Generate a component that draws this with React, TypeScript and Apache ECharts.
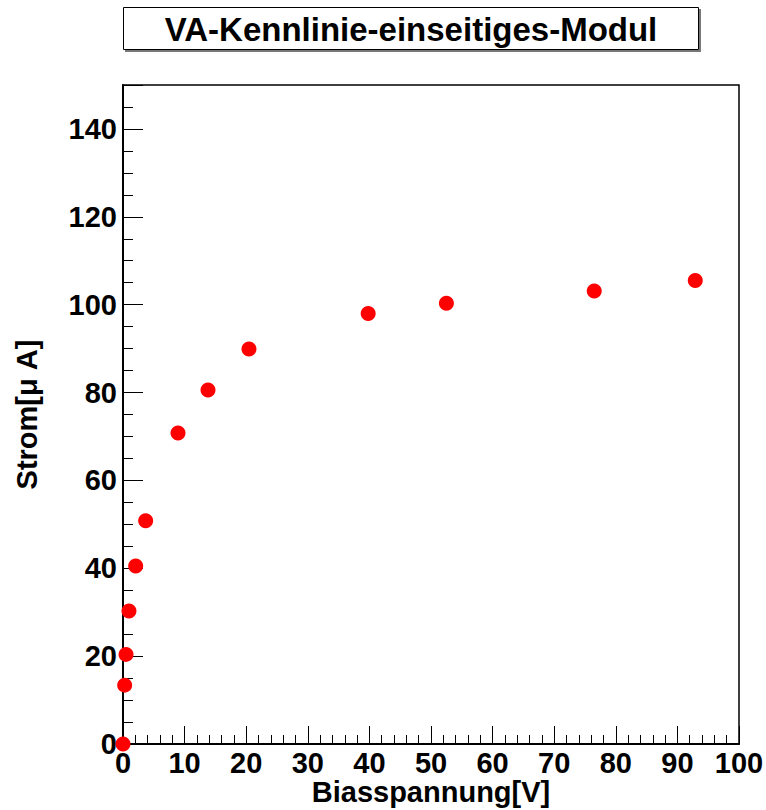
import React, { useEffect, useRef } from "react";
import * as echarts from "echarts";

// Bias voltage [V] and measured leakage current [µA]
const biasVoltage = [0, 0.27, 0.49, 0.97, 2.06, 3.68, 8.93, 13.8, 20.45, 39.8, 52.5, 76.5, 92.9];
const current = [0, 13.4, 20.4, 30.3, 40.5, 50.8, 70.8, 80.6, 89.9, 98.0, 100.3, 103.1, 105.5];

const titleText = "VA-Kennlinie-einseitiges-Modul";
const xTitle = "Biasspannung[V]";
const yTitle = "Strom[\u03bc A]";

const FONT = "'Liberation Sans', Arial, Helvetica, sans-serif";

export default function App() {
  const ref = useRef<HTMLDivElement>(null);

  useEffect(() => {
    if (!ref.current) return;
    const chart = echarts.init(ref.current, null, { renderer: "svg" });
    const points = biasVoltage.map((v, i) => [v, current[i]]);

    const axisCommon = {
      axisLine: { show: true, onZero: false, lineStyle: { color: "#000", width: 2 } },
      axisTick: { show: true, inside: true, lineStyle: { color: "#000", width: 1 } },
      minorTick: { show: true, lineStyle: { color: "#000", width: 1 } },
      splitLine: { show: false },
      minorSplitLine: { show: false },
      nameMoveOverlap: false,
      axisLabel: {
        color: "#000",
        fontFamily: FONT,
        fontWeight: "bold" as const,
        fontSize: 29,
      },
      nameTextStyle: {
        color: "#000",
        fontFamily: FONT,
        fontWeight: "bold" as const,
        fontSize: 29,
      },
    };

    chart.setOption({
      animation: false,
      backgroundColor: "#fff",
      grid: {
        left: 123,
        right: 27,
        top: 85,
        bottom: 66,
        outerBoundsMode: "none",
        containLabel: false,
        show: true,
        borderColor: "#000",
        borderWidth: 1.5,
        backgroundColor: "transparent",
      },
      xAxis: {
        type: "value",
        min: 0,
        max: 100,
        interval: 10,
        name: xTitle,
        nameLocation: "middle",
        nameGap: 33,
        ...axisCommon,
        nameTextStyle: { ...axisCommon.nameTextStyle, lineHeight: 30 },
        axisTick: { ...axisCommon.axisTick, length: 18 },
        minorTick: { ...axisCommon.minorTick, splitNumber: 5, length: 9 },
        axisLabel: { ...axisCommon.axisLabel, margin: 4 },
      },
      yAxis: {
        type: "value",
        min: 0,
        max: 150,
        interval: 20,
        name: yTitle,
        nameLocation: "middle",
        nameGap: 82,
        ...axisCommon,
        axisTick: { ...axisCommon.axisTick, length: 20 },
        minorTick: { ...axisCommon.minorTick, splitNumber: 4, length: 10 },
        axisLabel: {
          ...axisCommon.axisLabel,
          margin: 6,
          formatter: (v: number) => (v > 140 ? "" : String(v)),
        },
      },
      graphic: [
        {
          type: "polyline",
          shape: { points: [[700, 9], [700, 51], [125, 51]] },
          style: { stroke: "#777", lineWidth: 2, fill: "none" },
          z: 10,
        },
        {
          type: "rect",
          shape: { x: 123.5, y: 7.5, width: 575, height: 42 },
          style: { stroke: "#000", lineWidth: 1, fill: "#fff" },
          z: 11,
        },
        {
          type: "text",
          x: 411,
          y: 29,
          style: {
            text: titleText,
            fontFamily: FONT,
            fontWeight: "bold",
            fontSize: 33,
            fill: "#000",
            align: "center",
            verticalAlign: "middle",
          },
          z: 12,
        },
      ],
      series: [
        {
          type: "scatter",
          data: points,
          symbol: "circle",
          symbolSize: 15,
          itemStyle: { color: "#ff0000", opacity: 1 },
          clip: false,
          z: 5,
        },
      ],
    });

    return () => chart.dispose();
  }, []);

  return (
    <div
      ref={ref}
      style={{ position: "absolute", left: 0, top: 0, width: 766, height: 810 }}
    />
  );
}
